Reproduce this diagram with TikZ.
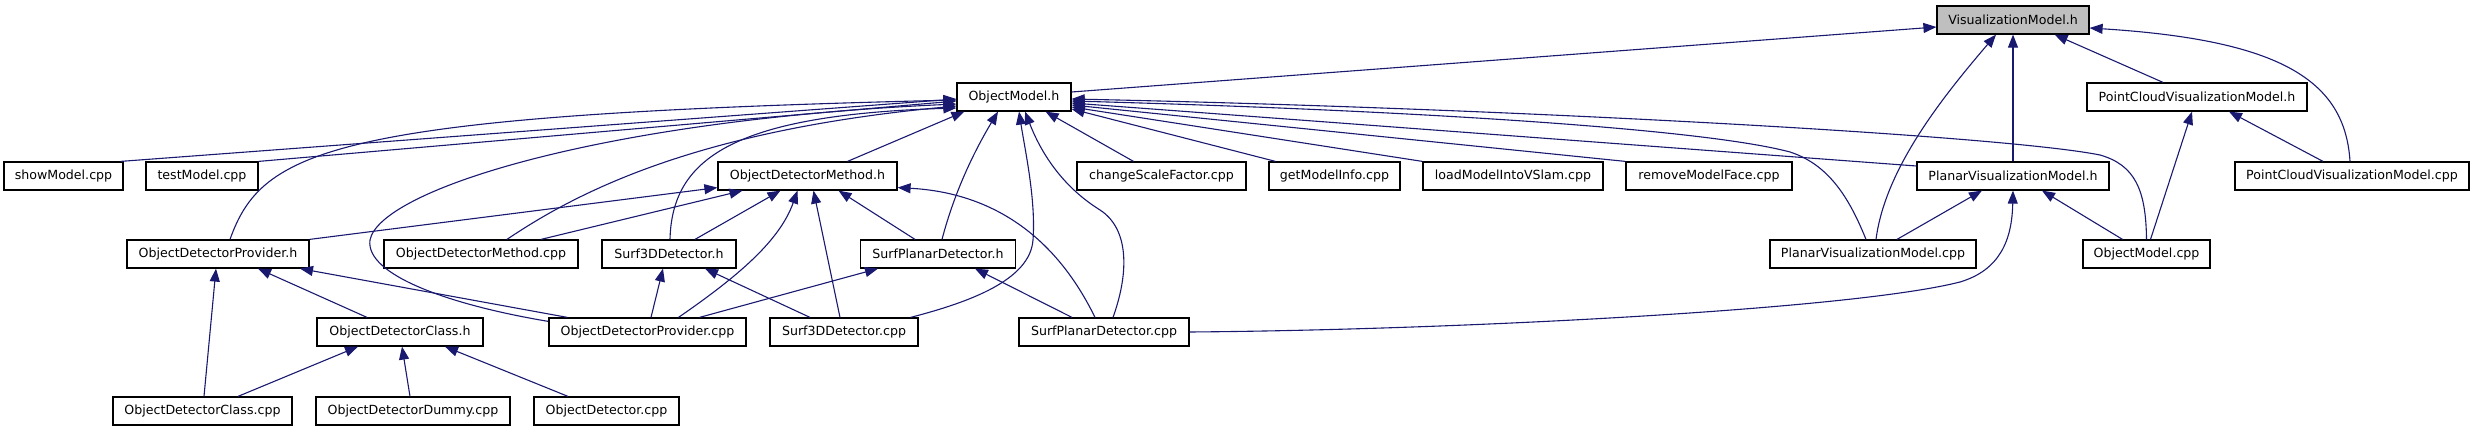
\documentclass[tikz,border=0pt]{standalone}
\usepackage{fontspec}
\setmainfont{DejaVu Sans}
\usetikzlibrary{arrows.meta,calc}
\definecolor{edgeblue}{HTML}{191970}
\definecolor{boxgray}{HTML}{BFBFBF}
\begin{document}
\begin{tikzpicture}[x=0.5pt,y=-0.5pt,
  file/.style={draw=black,line width=0.6pt,fill=white,minimum height=14pt,inner sep=0pt,
    font=\fontsize{6.3}{7.5}\selectfont},
  dep/.style={draw=edgeblue,line width=0.55pt,-{Triangle[length=6.5pt,width=5pt,fill=edgeblue]}},
]
\useasboundingbox (0,0) rectangle (2475,427);
% row 0
\node[file,fill=boxgray,minimum width=76pt] (VM) at (2013,20) {VisualizationModel.h};
% row 1
\node[file,minimum width=57pt] (OMh) at (1014,97) {ObjectModel.h};
\node[file,minimum width=110pt] (PCVMh) at (2197,97) {PointCloudVisualizationModel.h};
% row 2
\node[file,minimum width=59.5pt] (showModel) at (63.5,176) {showModel.cpp};
\node[file,minimum width=56pt] (testModel) at (202,176) {testModel.cpp};
\node[file,minimum width=89.5pt] (ODMh) at (807.5,176) {ObjectDetectorMethod.h};
\node[file,minimum width=84.5pt] (csf) at (1161.5,176) {changeScaleFactor.cpp};
\node[file,minimum width=65.5pt] (gmi) at (1334.5,176) {getModelInfo.cpp};
\node[file,minimum width=90pt] (lmv) at (1513,176) {loadModelIntoVSlam.cpp};
\node[file,minimum width=83pt] (rmf) at (1709,176) {removeModelFace.cpp};
\node[file,minimum width=96pt] (PVMh) at (2013,176) {PlanarVisualizationModel.h};
\node[file,minimum width=117pt] (PCVMcpp) at (2352,176) {PointCloudVisualizationModel.cpp};
% row 3
\node[file,minimum width=91pt] (ODPh) at (218,254) {ObjectDetectorProvider.h};
\node[file,minimum width=97pt] (ODMcpp) at (481,254) {ObjectDetectorMethod.cpp};
\node[file,minimum width=67pt] (S3Dh) at (669,254) {Surf3DDetector.h};
\node[file,minimum width=77.5pt] (SPDh) at (938,254) {SurfPlanarDetector.h};
\node[file,minimum width=103pt] (PVMcpp) at (1873,254) {PlanarVisualizationModel.cpp};
\node[file,minimum width=63.5pt] (OMcpp) at (2146.5,254) {ObjectModel.cpp};
% row 4
\node[file,minimum width=83pt] (ODCh) at (400,332) {ObjectDetectorClass.h};
\node[file,minimum width=98.5pt] (ODPcpp) at (647.5,332) {ObjectDetectorProvider.cpp};
\node[file,minimum width=74pt] (S3Dcpp) at (844,332) {Surf3DDetector.cpp};
\node[file,minimum width=85pt] (SPDcpp) at (1104,332) {SurfPlanarDetector.cpp};
% row 5
\node[file,minimum width=89.5pt] (ODCcpp) at (202.5,411) {ObjectDetectorClass.cpp};
\node[file,minimum width=97pt] (ODDcpp) at (413,411) {ObjectDetectorDummy.cpp};
\node[file,minimum width=72.5pt] (ODcpp) at (606.5,411) {ObjectDetector.cpp};

% edges into ObjectModel.h (left / bottom)
\draw[dep] ($(showModel.north east)+(-3,0)$) -- ($(OMh.west)+(0,2)$);
\draw[dep] (testModel.north east) -- ($(OMh.west)+(0,4)$);
\draw[dep] ($(ODPh.north)+(12,0)$) .. controls (262,150) and (330,115) .. ($(OMh.west)+(0,3)$);
\draw[dep] ($(ODPcpp.north west)+(0,4)$) .. controls (450,305) and (365,275) .. (370,240)
   .. controls (380,190) and (600,120) .. ($(OMh.west)+(0,7)$);
\draw[dep] ($(ODMcpp.north)+(26,0)$) .. controls (580,190) and (700,130) .. ($(OMh.west)+(0,9)$);
\draw[dep] ($(S3Dh.north)+(1,0)$) .. controls (672,160) and (730,115) .. ($(OMh.west)+(0,11)$);
\draw[dep] ($(ODMh.north)+(40,0)$) -- ($(OMh.south west)+(8,0)$);
\draw[dep] ($(SPDh.north)+(4,0)$) .. controls (955,190) and (975,150) .. ($(OMh.south)+(-16,0)$);
\draw[dep] ($(S3Dcpp.north east)+(-8,0)$) .. controls (970,302) and (1030,280) .. (1033,240)
   .. controls (1036,200) and (1025,150) .. ($(OMh.south)+(5,0)$);
\draw[dep] ($(SPDcpp.north)+(9,0)$) .. controls (1130,270) and (1128,228) .. (1100,210)
   .. controls (1060,185) and (1040,150) .. ($(OMh.south)+(11,0)$);
% edges into ObjectModel.h (right)
\draw[dep] ($(csf.north)+(-28,0)$) -- ($(OMh.south east)+(-26,0)$);
\draw[dep] ($(gmi.north)+(-59,0)$) -- ($(OMh.east)+(0,12)$);
\draw[dep] (lmv.north west) -- ($(OMh.east)+(0,10)$);
\draw[dep] (rmf.north west) -- ($(OMh.east)+(0,8)$);
\draw[dep] ($(PVMh.west)+(0,-10)$) -- ($(OMh.east)+(0,6)$);
\draw[dep] ($(PVMcpp.north)+(-7,0)$) .. controls (1850,200) and (1830,165) .. (1790,152)
   .. controls (1700,128) and (1400,110) .. ($(OMh.east)+(0,4)$);
\draw[dep] (OMcpp.north) .. controls (2146,190) and (2135,165) .. (2100,155)
   .. controls (2000,135) and (1500,108) .. ($(OMh.east)+(0,2)$);
% edges into VisualizationModel.h
\draw[dep] ($(OMh.east)+(0,-5)$) -- ($(VM.west)+(0,7)$);
\draw[dep] ($(PVMcpp.north)+(3,0)$) .. controls (1885,170) and (1940,100) .. ($(VM.south)+(-17,0)$);
\draw[dep] (PVMh.north) -- (VM.south);
\draw[dep] ($(PCVMh.north)+(-34,0)$) -- ($(VM.south east)+(-35,0)$);
\draw[dep] ($(PCVMcpp.north)+(-2,0)$) .. controls (2345,80) and (2280,40) .. ($(VM.east)+(0,8)$);
% edges into PointCloudVisualizationModel.h
\draw[dep] ($(OMcpp.north)+(4,0)$) -- ($(PCVMh.south)+(-5,0)$);
\draw[dep] ($(PCVMcpp.north)+(-29,0)$) -- ($(PCVMh.south)+(32,0)$);
% edges into PlanarVisualizationModel.h
\draw[dep] ($(PVMcpp.north)+(24,0)$) -- ($(PVMh.south)+(-31,0)$);
\draw[dep] ($(OMcpp.north)+(-24,0)$) -- ($(PVMh.south)+(29,0)$);
\draw[dep] (SPDcpp.east) .. controls (1450,330) and (1850,310) .. (1960,282)
   .. controls (2000,270) and (2012,240) .. (PVMh.south);
% edges into ObjectDetectorMethod.h
\draw[dep] (ODPh.north east) -- ($(ODMh.south west)+(0,-3)$);
\draw[dep] ($(ODMcpp.north)+(60,0)$) -- ($(ODMh.south)+(-65,0)$);
\draw[dep] ($(S3Dh.north)+(26,0)$) -- ($(ODMh.south)+(-27,0)$);
\draw[dep] ($(ODPcpp.north)+(31,0)$) .. controls (740,275) and (780,240) .. ($(ODMh.south)+(-10,0)$);
\draw[dep] ($(S3Dcpp.north)+(-4,0)$) -- ($(ODMh.south)+(6,0)$);
\draw[dep] ($(SPDh.north)+(-23,0)$) -- ($(ODMh.south)+(31,0)$);
\draw[dep] ($(SPDcpp.north)+(-9,0)$) .. controls (1050,225) and (980,192) .. ($(ODMh.south east)+(0,-3)$);
% edges into ObjectDetectorProvider.h
\draw[dep] ($(ODCcpp.north)+(1.5,0)$) -- ($(ODPh.south)+(-2,0)$);
\draw[dep] ($(ODCh.north)+(-33,0)$) -- ($(ODPh.south)+(40,0)$);
\draw[dep] ($(ODPcpp.north west)+(19,0)$) -- ($(ODPh.south)+(82,0)$);
% edges into Surf3DDetector.h
\draw[dep] ($(ODPcpp.north)+(3.5,0)$) -- ($(S3Dh.south)+(-6,0)$);
\draw[dep] ($(S3Dcpp.north)+(-34,0)$) -- ($(S3Dh.south)+(36,0)$);
% edges into SurfPlanarDetector.h
\draw[dep] ($(ODPcpp.north)+(52,0)$) -- ($(SPDh.south)+(-60,0)$);
\draw[dep] ($(SPDcpp.north)+(-32,0)$) -- ($(SPDh.south)+(37,0)$);
% edges into ObjectDetectorClass.h
\draw[dep] ($(ODCcpp.north)+(35.5,0)$) -- ($(ODCh.south)+(-42,0)$);
\draw[dep] ($(ODDcpp.north)+(-3,0)$) -- ($(ODCh.south)+(2,0)$);
\draw[dep] ($(ODcpp.north)+(-38.5,0)$) -- ($(ODCh.south)+(45,0)$);
\end{tikzpicture}
\end{document}
